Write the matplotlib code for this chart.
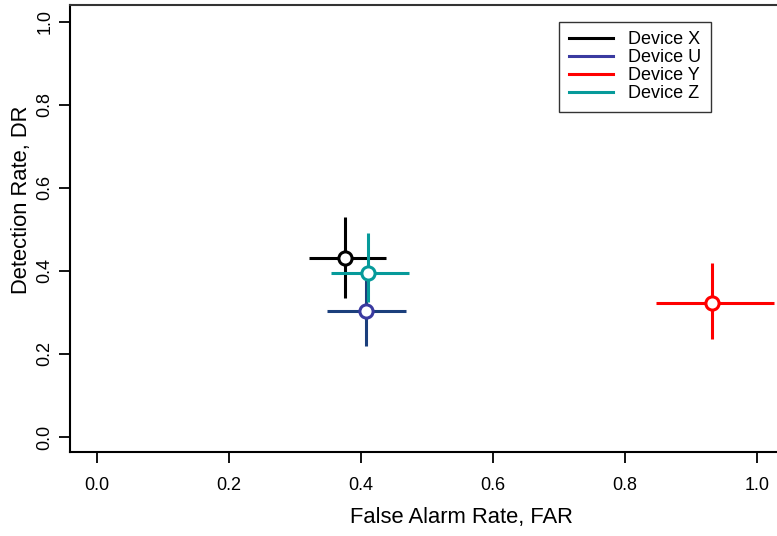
import numpy as np
import matplotlib.pyplot as plt
from matplotlib.lines import Line2D

plt.rcParams['font.family'] = ['Liberation Sans', 'DejaVu Sans']

devices = ['Device X', 'Device U', 'Device Y', 'Device Z']
far = [0.376, 0.407, 0.932, 0.411]
far_lo = [0.321, 0.348, 0.847, 0.355]
far_hi = [0.438, 0.468, 1.026, 0.473]
dr = [0.431, 0.304, 0.323, 0.395]
dr_lo = [0.335, 0.219, 0.236, 0.325]
dr_hi = [0.530, 0.378, 0.419, 0.492]
bar_colors = ['black', '#1b3f7c', 'red', '#069a9a']
mark_colors = ['black', '#3a3aa0', 'red', '#069a9a']
legend_colors = ['black', '#3a3aa0', 'red', '#069a9a']
# drawing order: U under Z
order = [0, 1, 3, 2]

fig = plt.figure(figsize=(7.77, 5.36), dpi=100)
ax = fig.add_axes([70/777, 84/536, 707/777, 447/536])

for i in order:
    ax.plot([far_lo[i], far_hi[i]], [dr[i], dr[i]], color=bar_colors[i], lw=2.2, solid_capstyle='butt')
    ax.plot([far[i], far[i]], [dr_lo[i], dr_hi[i]], color=bar_colors[i], lw=2.2, solid_capstyle='butt')
for i in order:
    ax.plot(far[i], dr[i], 'o', ms=9.5, mfc='white', mec=mark_colors[i], mew=2.2)

ax.set_xlim(-0.041, 1.030)
ax.set_ylim(-0.036, 1.040)
ticks = np.arange(0, 1.01, 0.2)
ax.set_xticks(ticks)
ax.set_yticks(ticks)
ax.set_xticklabels(['%.1f' % t for t in ticks])
ax.set_yticklabels(['%.1f' % t for t in ticks], rotation=90, va='center')
ax.tick_params(length=8, width=1.3, labelsize=13)
ax.tick_params(axis='x', pad=10)
ax.tick_params(axis='y', pad=4)
ax.spines['right'].set_visible(False)
for s in ['left', 'bottom', 'top']:
    ax.spines[s].set_linewidth(1.5)
ax.spines['top'].set_color('#333333')
ax.set_xlabel('False Alarm Rate, FAR', fontsize=15.8)
ax.set_ylabel('Detection Rate, DR', fontsize=15.8)
ax.xaxis.set_label_coords(0.554, -0.122)
ax.yaxis.set_label_coords(-0.054, 0.564)

handles = [Line2D([0], [0], color=c, lw=2.2) for c in legend_colors]
leg = ax.legend(handles, devices, loc='upper left', bbox_to_anchor=(0.692, 0.963),
                fontsize=13, frameon=True, fancybox=False, handlelength=2.4,
                handletextpad=0.85, borderpad=0.55, labelspacing=0.05, borderaxespad=0)
leg.get_frame().set_edgecolor('black')
leg.get_frame().set_linewidth(1.0)

fig.savefig('out.png', dpi=100)
